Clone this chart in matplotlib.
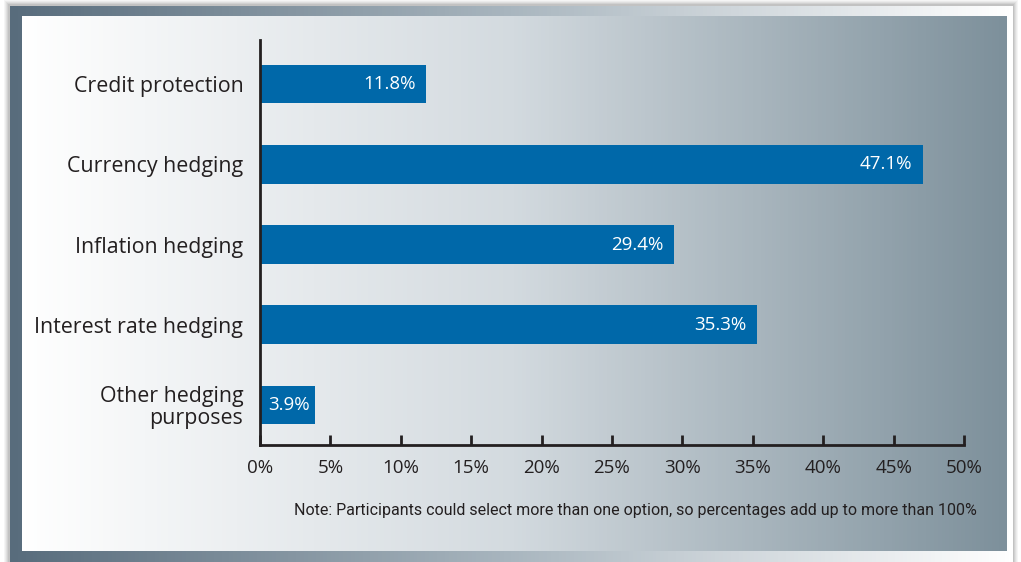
import numpy as np
import matplotlib.pyplot as plt
from matplotlib.colors import LinearSegmentedColormap
from matplotlib.patches import Rectangle

# hedging purposes, bottom to top
purposes = ['Other hedging\npurposes', 'Interest rate hedging', 'Inflation hedging',
            'Currency hedging', 'Credit protection']
shares = [3.9, 35.3, 29.4, 47.1, 11.8]
xticks = [0, 5, 10, 15, 20, 25, 30, 35, 40, 45, 50]
note = 'Note: Participants could select more than one option, so percentages add up to more than 100%'

W, H = 1021, 562
fig = plt.figure(figsize=(W / 100, H / 100), dpi=100)
fig.patch.set_facecolor('white')

# background: drop shadow, slate frame and shaded panel
bg = fig.add_axes([0, 0, 1, 1])
bg.set_xlim(0, W)
bg.set_ylim(H, 0)
bg.axis('off')
for i, a in enumerate([0.04, 0.04, 0.05, 0.06, 0.07]):
    d = 6 - i
    bg.add_patch(Rectangle((10 - d, 6 - d), 1002 + 2 * d, 600, color='#000000',
                           alpha=a, lw=0, zorder=0))
ramp = np.linspace(0, 1, 256)[None, :]
frame_cm = LinearSegmentedColormap.from_list('frame', ['#586c7c', '#a9b6bf', '#ffffff'])
panel_cm = LinearSegmentedColormap.from_list('panel', ['#ffffff', '#d3dadf', '#7d909b'])
bg.imshow(ramp, cmap=frame_cm, extent=(10, 1012, 562, 6), aspect='auto', zorder=1)
bg.imshow(ramp, cmap=panel_cm, extent=(22, 1006, 551, 16), aspect='auto', zorder=2)
bg.set_xlim(0, W)
bg.set_ylim(H, 0)

# bar chart
ax = fig.add_axes([260 / W, (H - 445) / H, (964 - 260) / W, (445 - 40) / H])
ax.set_facecolor('none')
pos = np.arange(len(purposes))
ax.barh(pos, shares, height=0.48, color='#0068a9', zorder=2)
for p, v in zip(pos, shares):
    # short bars get their label centred, the rest sit at the bar end
    if v < 5:
        ax.text(v / 2 + 0.1, p, f'{v:.1f}%', ha='center', va='center', color='white',
                fontsize=13.5, family='Open Sans', zorder=3)
    else:
        ax.text(v - 0.75, p, f'{v:.1f}%', ha='right', va='center', color='white',
                fontsize=13.5, family='Open Sans', zorder=3)

ax.set_xlim(0, 50)
ax.set_ylim(-0.5, 4.55)
ax.set_xticks(xticks)
ax.set_xticklabels([f'{t}%' for t in xticks], family='Open Sans', fontsize=13.5,
                   color='#231f20')
ax.set_yticks(pos)
ax.set_yticklabels(purposes, family='Open Sans', fontsize=15.4, color='#231f20',
                   linespacing=1.05)
ax.tick_params(axis='x', direction='in', length=7, width=2, color='#231f20', pad=10)
ax.tick_params(axis='y', length=0, pad=12)
for s in ['top', 'right']:
    ax.spines[s].set_visible(False)
for s in ['left', 'bottom']:
    ax.spines[s].set_linewidth(2)
    ax.spines[s].set_color('#231f20')

fig.text(977 / W, 1 - 511 / H, note, ha='right', va='center', fontsize=11.5,
         family='Roboto', color='#231f20')

fig.savefig('out.png', dpi=100)
